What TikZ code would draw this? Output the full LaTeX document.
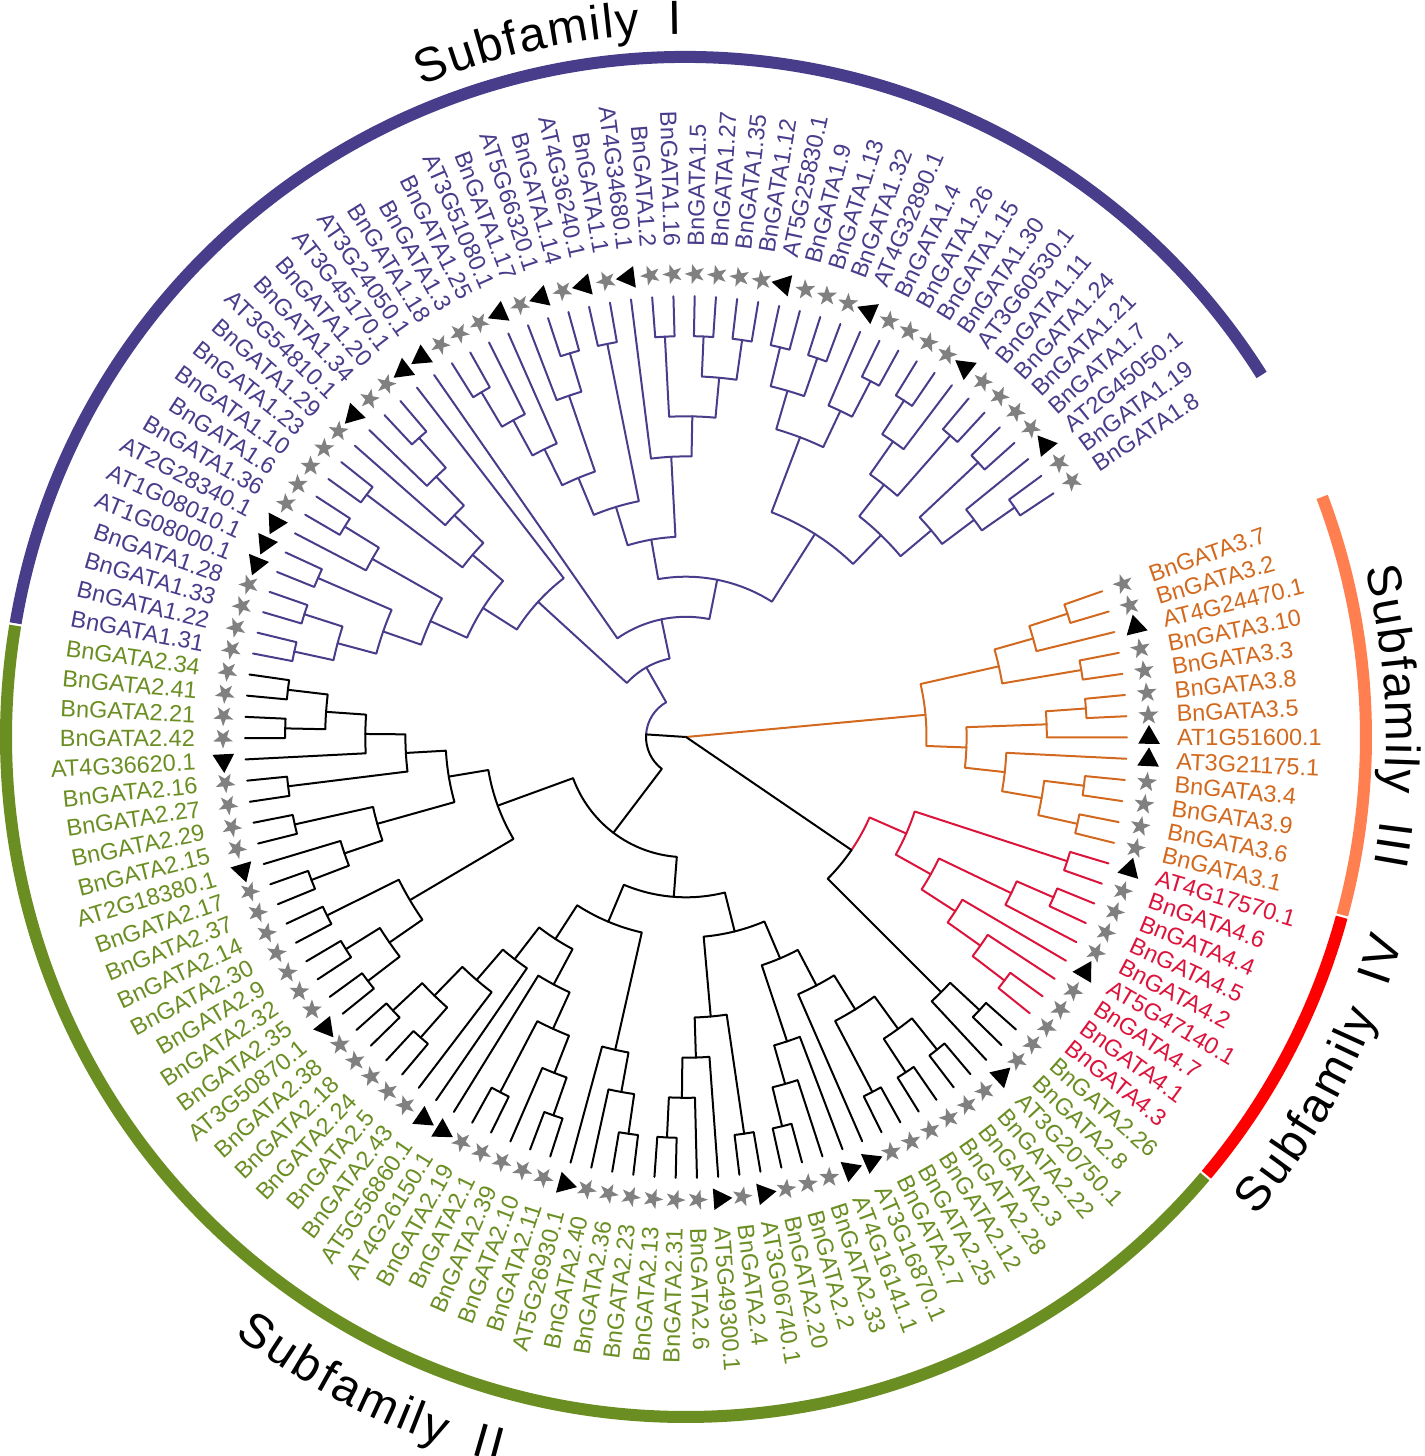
\documentclass[tikz,border=0pt]{standalone}
\usepackage{fontspec}
\setmainfont{Liberation Sans}
\usetikzlibrary{shapes.geometric}
\definecolor{cI}{RGB}{72,61,139}
\definecolor{cII}{RGB}{107,142,35}
\definecolor{cIIIt}{RGB}{210,105,30}
\definecolor{cIVt}{RGB}{220,20,60}
\definecolor{cIII}{RGB}{255,127,80}
\definecolor{cIV}{RGB}{255,0,0}
\definecolor{starg}{RGB}{128,128,128}

\newcommand\setleaf[2]{%
  \pgfmathsetmacro\tmpa{19.3-2.766*#1}%
  \expandafter\xdef\csname tA#1\endcsname{\tmpa}%
  \expandafter\xdef\csname tH#1\endcsname{0}%
  \expandafter\xdef\csname tC#1\endcsname{#2}%
}
\newcommand\bnode[4]{%
  \edef\ca{\csname tA#3\endcsname}%
  \edef\cb{\csname tA#4\endcsname}%
  \edef\ha{\csname tH#3\endcsname}%
  \edef\hb{\csname tH#4\endcsname}%
  \edef\cola{\csname tC#3\endcsname}%
  \edef\colb{\csname tC#4\endcsname}%
  \pgfmathtruncatemacro\hh{1+max(\ha,\hb)}%
  \pgfmathsetmacro\am{(\ca+\cb)/2}%
  \pgfmathsetmacro\rr{441-40.1*\hh}%
  \pgfmathsetmacro\ra{441-40.1*\ha}%
  \pgfmathsetmacro\rb{441-40.1*\hb}%
  \draw[treeline, draw=\cola] (\am:\rr pt) arc[start angle=\am, end angle=\ca, radius=\rr pt] -- (\ca:\ra pt);%
  \draw[treeline, draw=\colb] (\am:\rr pt) arc[start angle=\am, end angle=\cb, radius=\rr pt] -- (\cb:\rb pt);%
  \expandafter\xdef\csname tA#1\endcsname{\am}%
  \expandafter\xdef\csname tH#1\endcsname{\hh}%
  \expandafter\xdef\csname tC#1\endcsname{#2}%
}
\newcommand\rootline[1]{%
  \edef\ca{\csname tA#1\endcsname}%
  \edef\ha{\csname tH#1\endcsname}%
  \edef\cola{\csname tC#1\endcsname}%
  \pgfmathsetmacro\ra{441-40.1*\ha}%
  \draw[treeline, draw=\cola] (0,0) -- (\ca:\ra pt);%
}
\def\subfs{48}
% #1 name prefix, #2 centre-line radius, #3 baseline radius, #4 first letter angle, #5 direction, #6 spacing, #7 letters
\newcommand\arclabel[7]{%
  \gdef\curpos{0}%
  \gdef\firstc{0}%
  \foreach \ch/\w [count=\k] in {#7} {%
    \pgfmathsetmacro\cc{\curpos+\w*\subfs/2}%
    \ifnum\k=1 \xdef\firstc{\cc}\fi
    \pgfmathsetmacro\ang{#4+(#5)*(\cc-\firstc)/#2*180/pi}%
    \pgfmathsetmacro\rot{\ang+(#5)*90}%
    \node[sublab, anchor=base, rotate=\rot] (#1\k) at (\ang:#3 pt) {\ch};%
    \pgfmathsetmacro\np{\curpos+\w*\subfs+#6}%
    \xdef\curpos{\np}%
  }%
}

\begin{document}
\begin{tikzpicture}[x=1pt,y=1pt,
  treeline/.style={line width=2pt, line cap=round, line join=round},
  leaflab/.style={font=\fontsize{23.5}{24}\selectfont, inner sep=0pt},
  sublab/.style={font=\fontsize{48}{48}\selectfont, inner sep=0pt, text=black},
  starmk/.style={star, star points=5, star point ratio=2.5, minimum size=21pt, inner sep=0pt, fill=starg, draw=none},
  trimk/.style={regular polygon, regular polygon sides=3, minimum size=25pt, inner sep=0pt, fill=black, draw=none},
  bigarc/.style={line width=12pt}]
\useasboundingbox (0,0) rectangle (1424,-1456);
\begin{scope}[shift={(686,-737)}]
% outer subfamily arcs
\draw[bigarc, cI] (170.37:680pt) arc[start angle=170.37, end angle=32.17, radius=680pt];
\draw[bigarc, cIII] (20.68:680pt) arc[start angle=20.68, end angle=-15.17, radius=680pt];
\draw[bigarc, cIV] (-15.37:680pt) arc[start angle=-15.37, end angle=-40.07, radius=680pt];
\draw[bigarc, cII] (-40.27:680pt) arc[start angle=-40.27, end angle=-189.43, radius=680pt];

% leaves
\foreach \i in {0,...,12} {\setleaf{\i}{cIIIt}}
\foreach \i in {13,...,21} {\setleaf{\i}{cIVt}}
\foreach \i in {22,...,75} {\setleaf{\i}{black}}
\foreach \i in {76,...,125} {\setleaf{\i}{cI}}

% subfamily I
\bnode{p1}{cI}{76}{77}
\bnode{p2}{cI}{78}{79}
\bnode{p3}{cI}{p1}{p2}
\bnode{p4}{cI}{80}{81}
\bnode{p5}{cI}{p3}{p4}
\bnode{p6}{cI}{83}{84}
\bnode{p7}{cI}{82}{p6}
\bnode{p8}{cI}{p5}{p7}
\bnode{p9}{cI}{85}{86}
\bnode{p10}{cI}{89}{90}
\bnode{p11}{cI}{88}{p10}
\bnode{p12}{cI}{87}{p11}
\bnode{p13}{cI}{p9}{p12}
\bnode{p14}{cI}{p8}{p13}
\bnode{p15}{cI}{p14}{91}
\bnode{p16}{cI}{93}{94}
\bnode{p17}{cI}{p16}{95}
\bnode{p18}{cI}{p17}{96}
\bnode{p19}{cI}{98}{99}
\bnode{p20}{cI}{97}{p19}
\bnode{p21}{cI}{p18}{p20}
\bnode{p22}{cI}{100}{101}
\bnode{p23}{cI}{p21}{p22}
\bnode{p24}{cI}{103}{104}
\bnode{p25}{cI}{105}{106}
\bnode{p26}{cI}{107}{108}
\bnode{p27}{cI}{p25}{p26}
\bnode{p28}{cI}{p24}{p27}
\bnode{p29}{cI}{102}{p28}
\bnode{p30}{cI}{p23}{p29}
\bnode{p31}{cI}{109}{110}
\bnode{p32}{cI}{111}{112}
\bnode{p33}{cI}{p31}{p32}
\bnode{p34}{cI}{114}{115}
\bnode{p35}{cI}{113}{p34}
\bnode{p36}{cI}{p33}{p35}
\bnode{p37}{cI}{116}{117}
\bnode{p38}{cI}{p37}{118}
\bnode{p39}{cI}{119}{120}
\bnode{p40}{cI}{p38}{p39}
\bnode{p41}{cI}{121}{122}
\bnode{p42}{cI}{124}{125}
\bnode{p43}{cI}{123}{p42}
\bnode{p44}{cI}{p41}{p43}
\bnode{p45}{cI}{p40}{p44}
\bnode{p46}{cI}{p36}{p45}
\bnode{p47}{cI}{p30}{p46}
\bnode{p48}{cI}{92}{p47}
\bnode{p49}{cI}{p15}{p48}
% subfamily II
\bnode{g1}{black}{74}{75}
\bnode{g2}{black}{72}{73}
\bnode{g3}{black}{g1}{g2}
\bnode{g4}{black}{g3}{71}
\bnode{g5}{black}{69}{70}
\bnode{g6}{black}{g4}{g5}
\bnode{g7}{black}{67}{68}
\bnode{g8}{black}{64}{65}
\bnode{g9}{black}{66}{g8}
\bnode{g10}{black}{g7}{g9}
\bnode{g11}{black}{g6}{g10}
\bnode{g12}{black}{62}{63}
\bnode{g13}{black}{60}{61}
\bnode{g14}{black}{58}{59}
\bnode{g15}{black}{g13}{g14}
\bnode{g16}{black}{g12}{g15}
\bnode{g17}{black}{g11}{g16}
\bnode{g18}{black}{56}{57}
\bnode{g19}{black}{54}{55}
\bnode{g20}{black}{g18}{g19}
\bnode{g21}{black}{g20}{53}
\bnode{g22}{black}{g21}{52}
\bnode{g23}{black}{49}{50}
\bnode{g24}{black}{46}{47}
\bnode{g25}{black}{48}{g24}
\bnode{g26}{black}{g23}{g25}
\bnode{g27}{black}{51}{g26}
\bnode{g28}{black}{g22}{g27}
\bnode{g29}{black}{42}{43}
\bnode{g30}{black}{44}{g29}
\bnode{g31}{black}{45}{g30}
\bnode{g32}{black}{g28}{g31}
\bnode{g33}{black}{40}{41}
\bnode{g34}{black}{g33}{39}
\bnode{g35}{black}{g34}{38}
\bnode{g36}{black}{36}{37}
\bnode{g37}{black}{g35}{g36}
\bnode{g38}{black}{34}{35}
\bnode{g39}{black}{g38}{33}
\bnode{g40}{black}{g39}{32}
\bnode{g41}{black}{29}{30}
\bnode{g42}{black}{27}{28}
\bnode{g43}{black}{25}{26}
\bnode{g44}{black}{g42}{g43}
\bnode{g45}{black}{g41}{g44}
\bnode{g46}{black}{31}{g45}
\bnode{g47}{black}{g40}{g46}
\bnode{g48}{black}{g37}{g47}
\bnode{g49}{black}{g32}{g48}
\bnode{g50}{black}{g17}{g49}
\bnode{xx}{black}{p49}{g50}
% subfamily III
\bnode{o1}{cIIIt}{0}{1}
\bnode{o2}{cIIIt}{o1}{2}
\bnode{o3}{cIIIt}{3}{4}
\bnode{o4}{cIIIt}{o2}{o3}
\bnode{o5}{cIIIt}{5}{6}
\bnode{o6}{cIIIt}{o5}{7}
\bnode{o7}{cIIIt}{9}{10}
\bnode{o8}{cIIIt}{11}{12}
\bnode{o9}{cIIIt}{o7}{o8}
\bnode{o10}{cIIIt}{8}{o9}
\bnode{o11}{cIIIt}{o6}{o10}
\bnode{o12}{cIIIt}{o4}{o11}
% subfamily IV and the small black clade
\bnode{r1}{cIVt}{13}{14}
\bnode{r2}{cIVt}{15}{16}
\bnode{r3}{cIVt}{r2}{17}
\bnode{r4}{cIVt}{20}{21}
\bnode{r5}{cIVt}{19}{r4}
\bnode{r6}{cIVt}{18}{r5}
\bnode{r7}{cIVt}{r3}{r6}
\bnode{r8}{cIVt}{r1}{r7}
\bnode{e1}{black}{22}{23}
\bnode{e2}{black}{24}{e1}
\bnode{dd}{black}{r8}{e2}
% root
\rootline{xx}\rootline{o12}\rootline{dd}

% markers and labels
\foreach \i/\nm/\tp in {
0/BnGATA3.7/s,1/BnGATA3.2/s,2/AT4G24470.1/t,3/BnGATA3.10/s,4/BnGATA3.3/s,5/BnGATA3.8/s,6/BnGATA3.5/s,7/AT1G51600.1/t,8/AT3G21175.1/t,9/BnGATA3.4/s,10/BnGATA3.9/s,11/BnGATA3.6/s,12/BnGATA3.1/s,
13/AT4G17570.1/t,14/BnGATA4.6/s,15/BnGATA4.4/s,16/BnGATA4.5/s,17/BnGATA4.2/s,18/AT5G47140.1/t,19/BnGATA4.7/s,20/BnGATA4.1/s,21/BnGATA4.3/s,
22/BnGATA2.26/s,23/BnGATA2.8/s,24/AT3G20750.1/t,25/BnGATA2.22/s,26/BnGATA2.3/s,27/BnGATA2.28/s,28/BnGATA2.12/s,29/BnGATA2.25/s,30/BnGATA2.7/s,31/AT3G16870.1/t,32/AT4G16141.1/t,33/BnGATA2.33/s,34/BnGATA2.2/s,35/BnGATA2.20/s,36/AT3G06740.1/t,37/BnGATA2.4/s,38/AT5G49300.1/t,39/BnGATA2.6/s,40/BnGATA2.31/s,41/BnGATA2.13/s,42/BnGATA2.23/s,43/BnGATA2.36/s,44/BnGATA2.40/s,45/AT5G26930.1/t,46/BnGATA2.11/s,47/BnGATA2.10/s,48/BnGATA2.39/s,49/BnGATA2.1/s,50/BnGATA2.19/s,51/AT4G26150.1/t,52/AT5G56860.1/t,53/BnGATA2.43/s,54/BnGATA2.5/s,55/BnGATA2.24/s,56/BnGATA2.18/s,57/BnGATA2.38/s,58/AT3G50870.1/t,59/BnGATA2.35/s,60/BnGATA2.32/s,61/BnGATA2.9/s,62/BnGATA2.30/s,63/BnGATA2.14/s,64/BnGATA2.37/s,65/BnGATA2.17/s,66/AT2G18380.1/t,67/BnGATA2.15/s,68/BnGATA2.29/s,69/BnGATA2.27/s,70/BnGATA2.16/s,71/AT4G36620.1/t,72/BnGATA2.42/s,73/BnGATA2.21/s,74/BnGATA2.41/s,75/BnGATA2.34/s,
76/BnGATA1.31/s,77/BnGATA1.22/s,78/BnGATA1.33/s,79/BnGATA1.28/s,80/AT1G08000.1/t,81/AT1G08010.1/t,82/AT2G28340.1/t,83/BnGATA1.36/s,84/BnGATA1.6/s,85/BnGATA1.10/s,86/BnGATA1.23/s,87/BnGATA1.29/s,88/AT3G54810.1/t,89/BnGATA1.34/s,90/BnGATA1.20/s,91/AT3G45170.1/t,92/AT3G24050.1/t,93/BnGATA1.18/s,94/BnGATA1.3/s,95/BnGATA1.25/s,96/AT3G51080.1/t,97/BnGATA1.17/s,98/AT5G66320.1/t,99/BnGATA1.14/s,100/AT4G36240.1/t,101/BnGATA1.1/s,102/AT4G34680.1/t,103/BnGATA1.2/s,104/BnGATA1.16/s,105/BnGATA1.5/s,106/BnGATA1.27/s,107/BnGATA1.35/s,108/BnGATA1.12/s,109/AT5G25830.1/t,110/BnGATA1.9/s,111/BnGATA1.13/s,112/BnGATA1.32/s,113/AT4G32890.1/t,114/BnGATA1.4/s,115/BnGATA1.26/s,116/BnGATA1.15/s,117/BnGATA1.30/s,118/AT3G60530.1/t,119/BnGATA1.11/s,120/BnGATA1.24/s,121/BnGATA1.21/s,122/BnGATA1.7/s,123/AT2G45050.1/t,124/BnGATA1.19/s,125/BnGATA1.8/s}{%
  \pgfmathsetmacro\ang{19.3-2.766*\i}%
  \ifnum\i<13 \def\labcol{cIIIt}\else\ifnum\i<22 \def\labcol{cIVt}\else\ifnum\i<76 \def\labcol{cII}\else\def\labcol{cI}\fi\fi\fi
  \if\tp s\node[starmk, rotate=\ang] (M\i) at (\ang:463pt) {};\else\node[trimk, rotate=\ang] (M\i) at (\ang:463pt) {};\fi
  \pgfmathsetmacro\cosv{cos(\ang)}%
  \ifdim\cosv pt>0pt
    \node[leaflab, text=\labcol, anchor=west, rotate=\ang] (L\i) at (\ang:491pt) {\nm};%
  \else
    \pgfmathsetmacro\angb{\ang+180}%
    \node[leaflab, text=\labcol, anchor=east, rotate=\angb] (L\i) at (\ang:491pt) {\nm};%
  \fi
}

% subfamily titles
\arclabel{sA}{720}{703}{110.8}{-1}{2.5}{S/0.667,u/0.556,b/0.556,f/0.278,a/0.556,m/0.833,i/0.222,l/0.222,y/0.5,{}/0.5,I/0.278}
\arclabel{sC}{717}{700}{12.6}{-1}{2.5}{S/0.667,u/0.556,b/0.556,f/0.278,a/0.556,m/0.833,i/0.222,l/0.222,y/0.5,{}/0.5,I/0.278,I/0.278,I/0.278}
\arclabel{sB}{732}{749}{234.2}{1}{2.5}{S/0.667,u/0.556,b/0.556,f/0.278,a/0.556,m/0.833,i/0.222,l/0.222,y/0.5,{}/0.5,I/0.278,I/0.278}
\arclabel{sD}{728}{745}{321.2}{1}{2.5}{S/0.667,u/0.556,b/0.556,f/0.278,a/0.556,m/0.833,i/0.222,l/0.222,y/0.5,{}/0.5,I/0.278,V/0.667}
\end{scope}
\end{tikzpicture}
\end{document}
